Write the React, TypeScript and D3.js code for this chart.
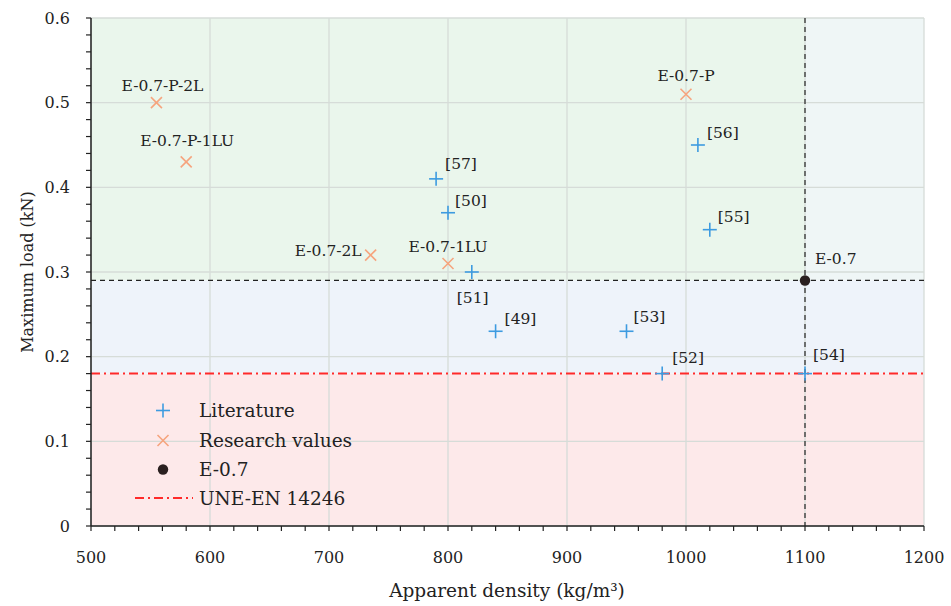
import React from "react";
import * as d3 from "d3";

const litLabels = ["[57]", "[50]", "[51]", "[49]", "[53]", "[52]", "[54]", "[56]", "[55]"];
const litX = [790, 800, 820, 840, 950, 980, 1100, 1010, 1020];
const litY = [0.41, 0.37, 0.30, 0.23, 0.23, 0.18, 0.18, 0.45, 0.35];

const resLabels = ["E-0.7-P-2L", "E-0.7-P-1LU", "E-0.7-2L", "E-0.7-1LU", "E-0.7-P"];
const resX = [555, 580, 735, 800, 1000];
const resY = [0.50, 0.43, 0.32, 0.31, 0.51];

const refLabel = "E-0.7";
const refX = 1100;
const refY = 0.29;
const standardY = 0.18;

const xTicks = [500, 600, 700, 800, 900, 1000, 1100, 1200];
const yTicks = [0, 0.1, 0.2, 0.3, 0.4, 0.5, 0.6];

const W = 951, H = 606;
const M = { left: 91, right: 27, top: 18, bottom: 80 };
const FONT = "DejaVu Serif";

export default function App() {
  const x = d3.scaleLinear().domain([500, 1200]).range([M.left, W - M.right]);
  const y = d3.scaleLinear().domain([0, 0.6]).range([H - M.bottom, M.top]);
  const x0 = x(500), x1 = x(1200), y0 = y(0), y1 = y(0.6);
  const minorX = d3.range(500, 1201, 20);
  const minorY = d3.range(0, 0.601, 0.02);

  const litPos: Record<string, [string, number, number]> = {
    "[57]": ["start", 9, -10],
    "[50]": ["start", 7, -7],
    "[51]": ["start", -15, 31],
    "[49]": ["start", 9, -7],
    "[53]": ["start", 7, -9],
    "[52]": ["start", 10, -11],
    "[54]": ["start", 8, -14],
    "[56]": ["start", 9, -7],
    "[55]": ["start", 8, -8],
  };
  const resPos: Record<string, [string, number, number]> = {
    "E-0.7-P-2L": ["middle", 6, -12],
    "E-0.7-P-1LU": ["middle", 1, -15.5],
    "E-0.7-2L": ["end", -9, 1],
    "E-0.7-1LU": ["middle", 0, -12],
    "E-0.7-P": ["middle", 0, -13],
  };

  const ts = { fontFamily: FONT } as React.CSSProperties;

  const plus = (cx: number, cy: number, k: string, s = 7) => (
    <g key={k} stroke="#3d9be0" strokeWidth={1.6}>
      <line x1={cx - s} x2={cx + s} y1={cy} y2={cy} />
      <line x1={cx} x2={cx} y1={cy - s} y2={cy + s} />
    </g>
  );
  const cross = (cx: number, cy: number, k: string, s = 5.5) => (
    <g key={k} stroke="#f6a47e" strokeWidth={1.6}>
      <line x1={cx - s} x2={cx + s} y1={cy - s} y2={cy + s} />
      <line x1={cx - s} x2={cx + s} y1={cy + s} y2={cy - s} />
    </g>
  );

  const legX = 163, legT = 199;
  const legRows = [410.5, 440.5, 469.5, 498];

  return (
    <svg width={W} height={H} style={{ position: "absolute", left: 0, top: 0, fontFamily: FONT }}>
      <rect width={W} height={H} fill="#fff" />
      <rect x={x0} y={y1} width={x(1100) - x0} height={y(refY) - y1} fill="#eaf6ec" />
      <rect x={x(1100)} y={y1} width={x1 - x(1100)} height={y(refY) - y1} fill="#eff6f6" />
      <rect x={x0} y={y(refY)} width={x1 - x0} height={y(standardY) - y(refY)} fill="#eef3fa" />
      <rect x={x0} y={y(standardY)} width={x1 - x0} height={y0 - y(standardY)} fill="#fde9ea" />
      {xTicks.map((t) => (
        <line key={"gx" + t} x1={x(t)} x2={x(t)} y1={y1} y2={y0} stroke="#d6dcd8" strokeWidth={1.3} />
      ))}
      {yTicks.map((t) => (
        <line key={"gy" + t} x1={x0} x2={x1} y1={y(t)} y2={y(t)} stroke="#d6dcd8" strokeWidth={1.3} />
      ))}
      <line x1={x0} x2={x1} y1={y(refY)} y2={y(refY)} stroke="#222" strokeWidth={1.2} strokeDasharray="5,4" />
      <line x1={x(refX)} x2={x(refX)} y1={y1} y2={y0} stroke="#222" strokeWidth={1.2} strokeDasharray="5,4" />
      <line x1={x0} x2={x1} y1={y(standardY)} y2={y(standardY)} stroke="#ff2a2a" strokeWidth={2} strokeDasharray="9,4,2,4" />
      <line x1={x0} x2={x0} y1={y1} y2={y0} stroke="#222" strokeWidth={1.5} />
      <line x1={x0} x2={x1} y1={y0} y2={y0} stroke="#222" strokeWidth={1.5} />
      {minorX.map((t) => (
        <line key={"mx" + t} x1={x(t)} x2={x(t)} y1={y0} y2={y0 + 5} stroke="#222" strokeWidth={1.2} />
      ))}
      {minorY.map((t, i) => (
        <line key={"my" + i} x1={x0} x2={x0 - 5} y1={y(t)} y2={y(t)} stroke="#222" strokeWidth={1.2} />
      ))}
      {xTicks.map((t) => (
        <text key={"tx" + t} style={ts} x={x(t)} y={y0 + 37} textAnchor="middle" fontSize={16} fill="#222">{t}</text>
      ))}
      {yTicks.map((t) => (
        <text key={"ty" + t} style={ts} x={x0 - 21} y={y(t) + 5.5} textAnchor="end" fontSize={16} fill="#222">{t === 0 ? "0" : t.toFixed(1)}</text>
      ))}
      <text style={ts} x={507} y={597} textAnchor="middle" fontSize={18.5} fill="#222">Apparent density (kg/m³)</text>
      <text style={ts} transform={`translate(33,${(y0 + y1) / 2}) rotate(-90)`} textAnchor="middle" fontSize={16} fill="#222">Maximum load (kN)</text>
      {resX.map((v, i) => {
        const cx = x(v), cy = y(resY[i]);
        const p = resPos[resLabels[i]];
        return (
          <g key={"r" + i}>
            {cross(cx, cy, "rc" + i)}
            <text style={ts} x={cx + p[1]} y={cy + p[2]} textAnchor={p[0] as any} fontSize={15.5} fill="#222">{resLabels[i]}</text>
          </g>
        );
      })}
      {litX.map((v, i) => {
        const cx = x(v), cy = y(litY[i]);
        const p = litPos[litLabels[i]];
        return (
          <g key={"l" + i}>
            {plus(cx, cy, "lp" + i)}
            <text style={ts} x={cx + p[1]} y={cy + p[2]} textAnchor={p[0] as any} fontSize={15.5} fill="#222">{litLabels[i]}</text>
          </g>
        );
      })}
      <circle cx={x(refX)} cy={y(refY)} r={5.2} fill="#2a2020" />
      <text style={ts} x={x(refX) + 10} y={y(refY) - 16} fontSize={15.5} fill="#222">{refLabel}</text>
      {plus(legX, legRows[0], "lg1")}
      {cross(legX, legRows[1], "lg2")}
      <circle cx={legX} cy={legRows[2]} r={5.2} fill="#2a2020" />
      <line x1={135} x2={193} y1={legRows[3]} y2={legRows[3]} stroke="#ff2a2a" strokeWidth={2} strokeDasharray="9,4,2,4" />
      {["Literature", "Research values", "E-0.7", "UNE-EN 14246"].map((s, i) => (
        <text key={"lt" + i} style={ts} x={legT} y={legRows[i] + 6.5} fontSize={18.5} fill="#222">{s}</text>
      ))}
    </svg>
  );
}
